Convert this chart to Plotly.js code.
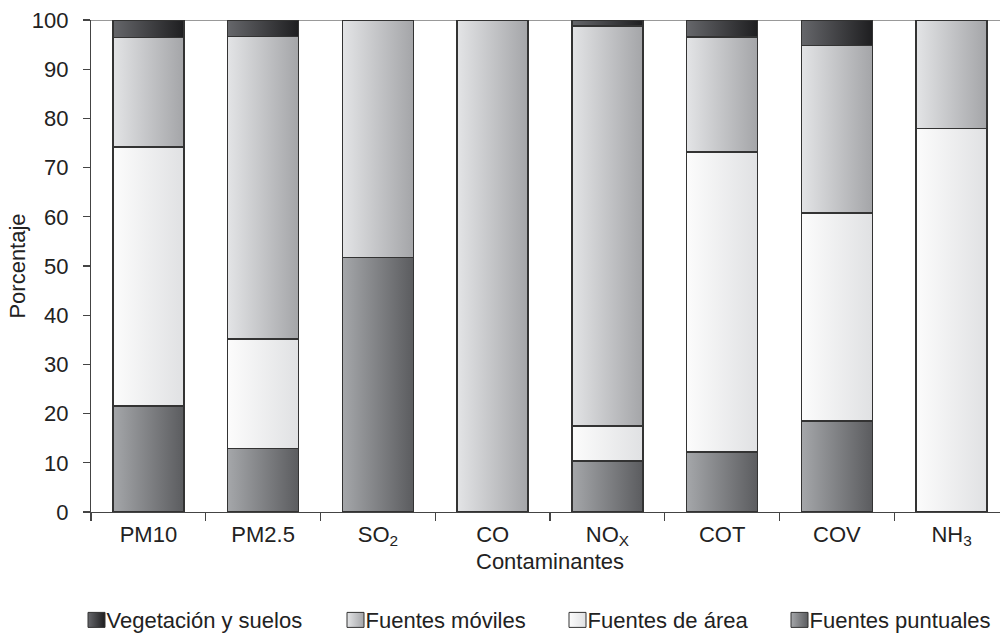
<!DOCTYPE html>
<html>
<head>
<meta charset="utf-8">
<script src="https://cdn.plot.ly/plotly-3.0.1.min.js"></script>
<style>
html,body{margin:0;padding:0;overflow:hidden;background:#fff;width:1000px;height:636px;}
#chart{width:1020px;height:636px;}
</style>
</head>
<body>
<div id="chart"></div>
<script>
// Data (percent of emissions by source type)
const categories = ["PM10", "PM2.5", "SO<sub>2</sub>", "CO", "NO<sub>X</sub>", "COT", "COV", "NH<sub>3</sub>"];
const puntuales  = [21.5, 12.9, 51.7, 0,   10.4, 12.2, 18.5, 0];
const area       = [52.7, 22.3, 0,    0,    7.1, 61.0, 42.3, 77.9];
const moviles    = [22.2, 61.4, 48.3, 100, 81.3, 23.3, 34.0, 22.1];
const vegetacion = [3.6,  3.4,  0,    0,    1.2,  3.5,  5.2, 0];

const seriesNames = ["Fuentes puntuales", "Fuentes de área", "Fuentes móviles", "Vegetación y suelos"];

const baseColors = ["rgb(128, 129, 132)", "rgb(239, 239, 240)", "rgb(196, 197, 199)", "rgb(64, 64, 67)"];
const gradStops = [
  ["#a5a7aa", "#5b5c5f"],
  ["#fcfcfc", "#e0e1e3"],
  ["#e3e4e6", "#a4a5a8"],
  ["#66676b", "#1e1e20"]
];
// legend box left edges (pixels), in legend display order
const legendBoxLeft = [88, 347, 569, 791];

const values = [puntuales, area, moviles, vegetacion];
const traces = values.map((v, i) => ({
  type: "bar",
  name: seriesNames[i],
  x: categories,
  y: v,
  width: 0.62,
  marker: {color: baseColors[i], line: {color: "#333333", width: 1.5}},
  hoverinfo: "skip"
}));

const font = "Liberation Sans, Arial, sans-serif";
const txt = "#222";
const layout = {
  width: 1020, height: 636,
  margin: {l: 91, r: 11, t: 20, b: 124},
  barmode: "stack",
  paper_bgcolor: "#fff", plot_bgcolor: "#fff",
  font: {family: font, size: 22, color: txt},
  showlegend: true,
  legend: {orientation: "h", traceorder: "reversed", xref: "container", yref: "container",
           x: 0.07, xanchor: "left", y: 0.025, yanchor: "middle",
           font: {family: font, size: 22, color: txt}, itemwidth: 30},
  xaxis: {
    type: "category", range: [-0.5, 7.5], automargin: false,
    tickson: "boundaries", ticks: "outside", ticklen: 8, tickcolor: "#444", tickwidth: 1.2,
    showline: true, linecolor: "#444", linewidth: 1.2, showgrid: false, zeroline: false,
    tickfont: {size: 22, color: txt}, ticklabelstandoff: 2,
    title: {text: "Contaminantes", font: {size: 22, color: txt}, standoff: 5}
  },
  yaxis: {
    range: [0, 100], dtick: 10, ticks: "outside", ticklen: 7, tickcolor: "#444", tickwidth: 1.2,
    automargin: false,
    showline: true, linecolor: "#444", linewidth: 1.2, showgrid: false, zeroline: false,
    tickfont: {size: 22, color: txt}, ticklabelstandoff: 10,
    title: {text: "Porcentaje", font: {size: 22, color: txt}, standoff: 0}
  },
  shapes: [{type: "line", xref: "paper", yref: "y", x0: 0, x1: 1, y0: 100, y1: 100,
            line: {color: "#777", width: 1.5}, layer: "below"}]
};

Plotly.newPlot("chart", traces, layout, {displayModeBar: false, staticPlot: true}).then(gd => {
  const svg = gd.querySelector("svg.main-svg");
  const NS = "http://www.w3.org/2000/svg";
  let defs = svg.querySelector("defs");
  if (!defs) { defs = document.createElementNS(NS, "defs"); svg.insertBefore(defs, svg.firstChild); }
  const map = {};
  gradStops.forEach((s, i) => {
    const g = document.createElementNS(NS, "linearGradient");
    g.setAttribute("id", "grad" + i);
    g.setAttribute("x1", "0"); g.setAttribute("y1", "0");
    g.setAttribute("x2", "1"); g.setAttribute("y2", "0");
    [[0, s[0]], [1, s[1]]].forEach(([o, c]) => {
      const st = document.createElementNS(NS, "stop");
      st.setAttribute("offset", o); st.setAttribute("stop-color", c);
      g.appendChild(st);
    });
    defs.appendChild(g);
    map[baseColors[i].replace(/\s/g, "")] = "url(#grad" + i + ")";
  });
  gd.querySelectorAll("path").forEach(p => {
    const f = (p.style.fill || "").replace(/\s/g, "");
    if (map[f]) p.style.fill = map[f];
  });
  // legend: larger boxes, text right after the box, positions as in reference
  gd.querySelectorAll(".legend [clip-path]").forEach(e => e.removeAttribute("clip-path"));
  gd.querySelectorAll(".legend g.traces").forEach((g, i) => {
    const p = g.querySelector(".legendpoints path");
    if (p) { p.setAttribute("d", "M8.5,7.5H-8.5V-7.5H8.5Z"); p.style.strokeWidth = "1px"; p.style.stroke = "#333"; }
    const t = g.querySelector("text.legendtext");
    if (t) t.setAttribute("x", 30);
    if (p && legendBoxLeft[i] !== undefined) {
      const r = p.getBoundingClientRect();
      const dx = legendBoxLeft[i] - r.left;
      const m = /translate\(\s*([-\d.]+)[ ,]+([-\d.]+)\s*\)/.exec(g.getAttribute("transform") || "");
      if (m) g.setAttribute("transform", "translate(" + (parseFloat(m[1]) + dx) + "," + m[2] + ")");
    }
  });
});
</script>
</body>
</html>
